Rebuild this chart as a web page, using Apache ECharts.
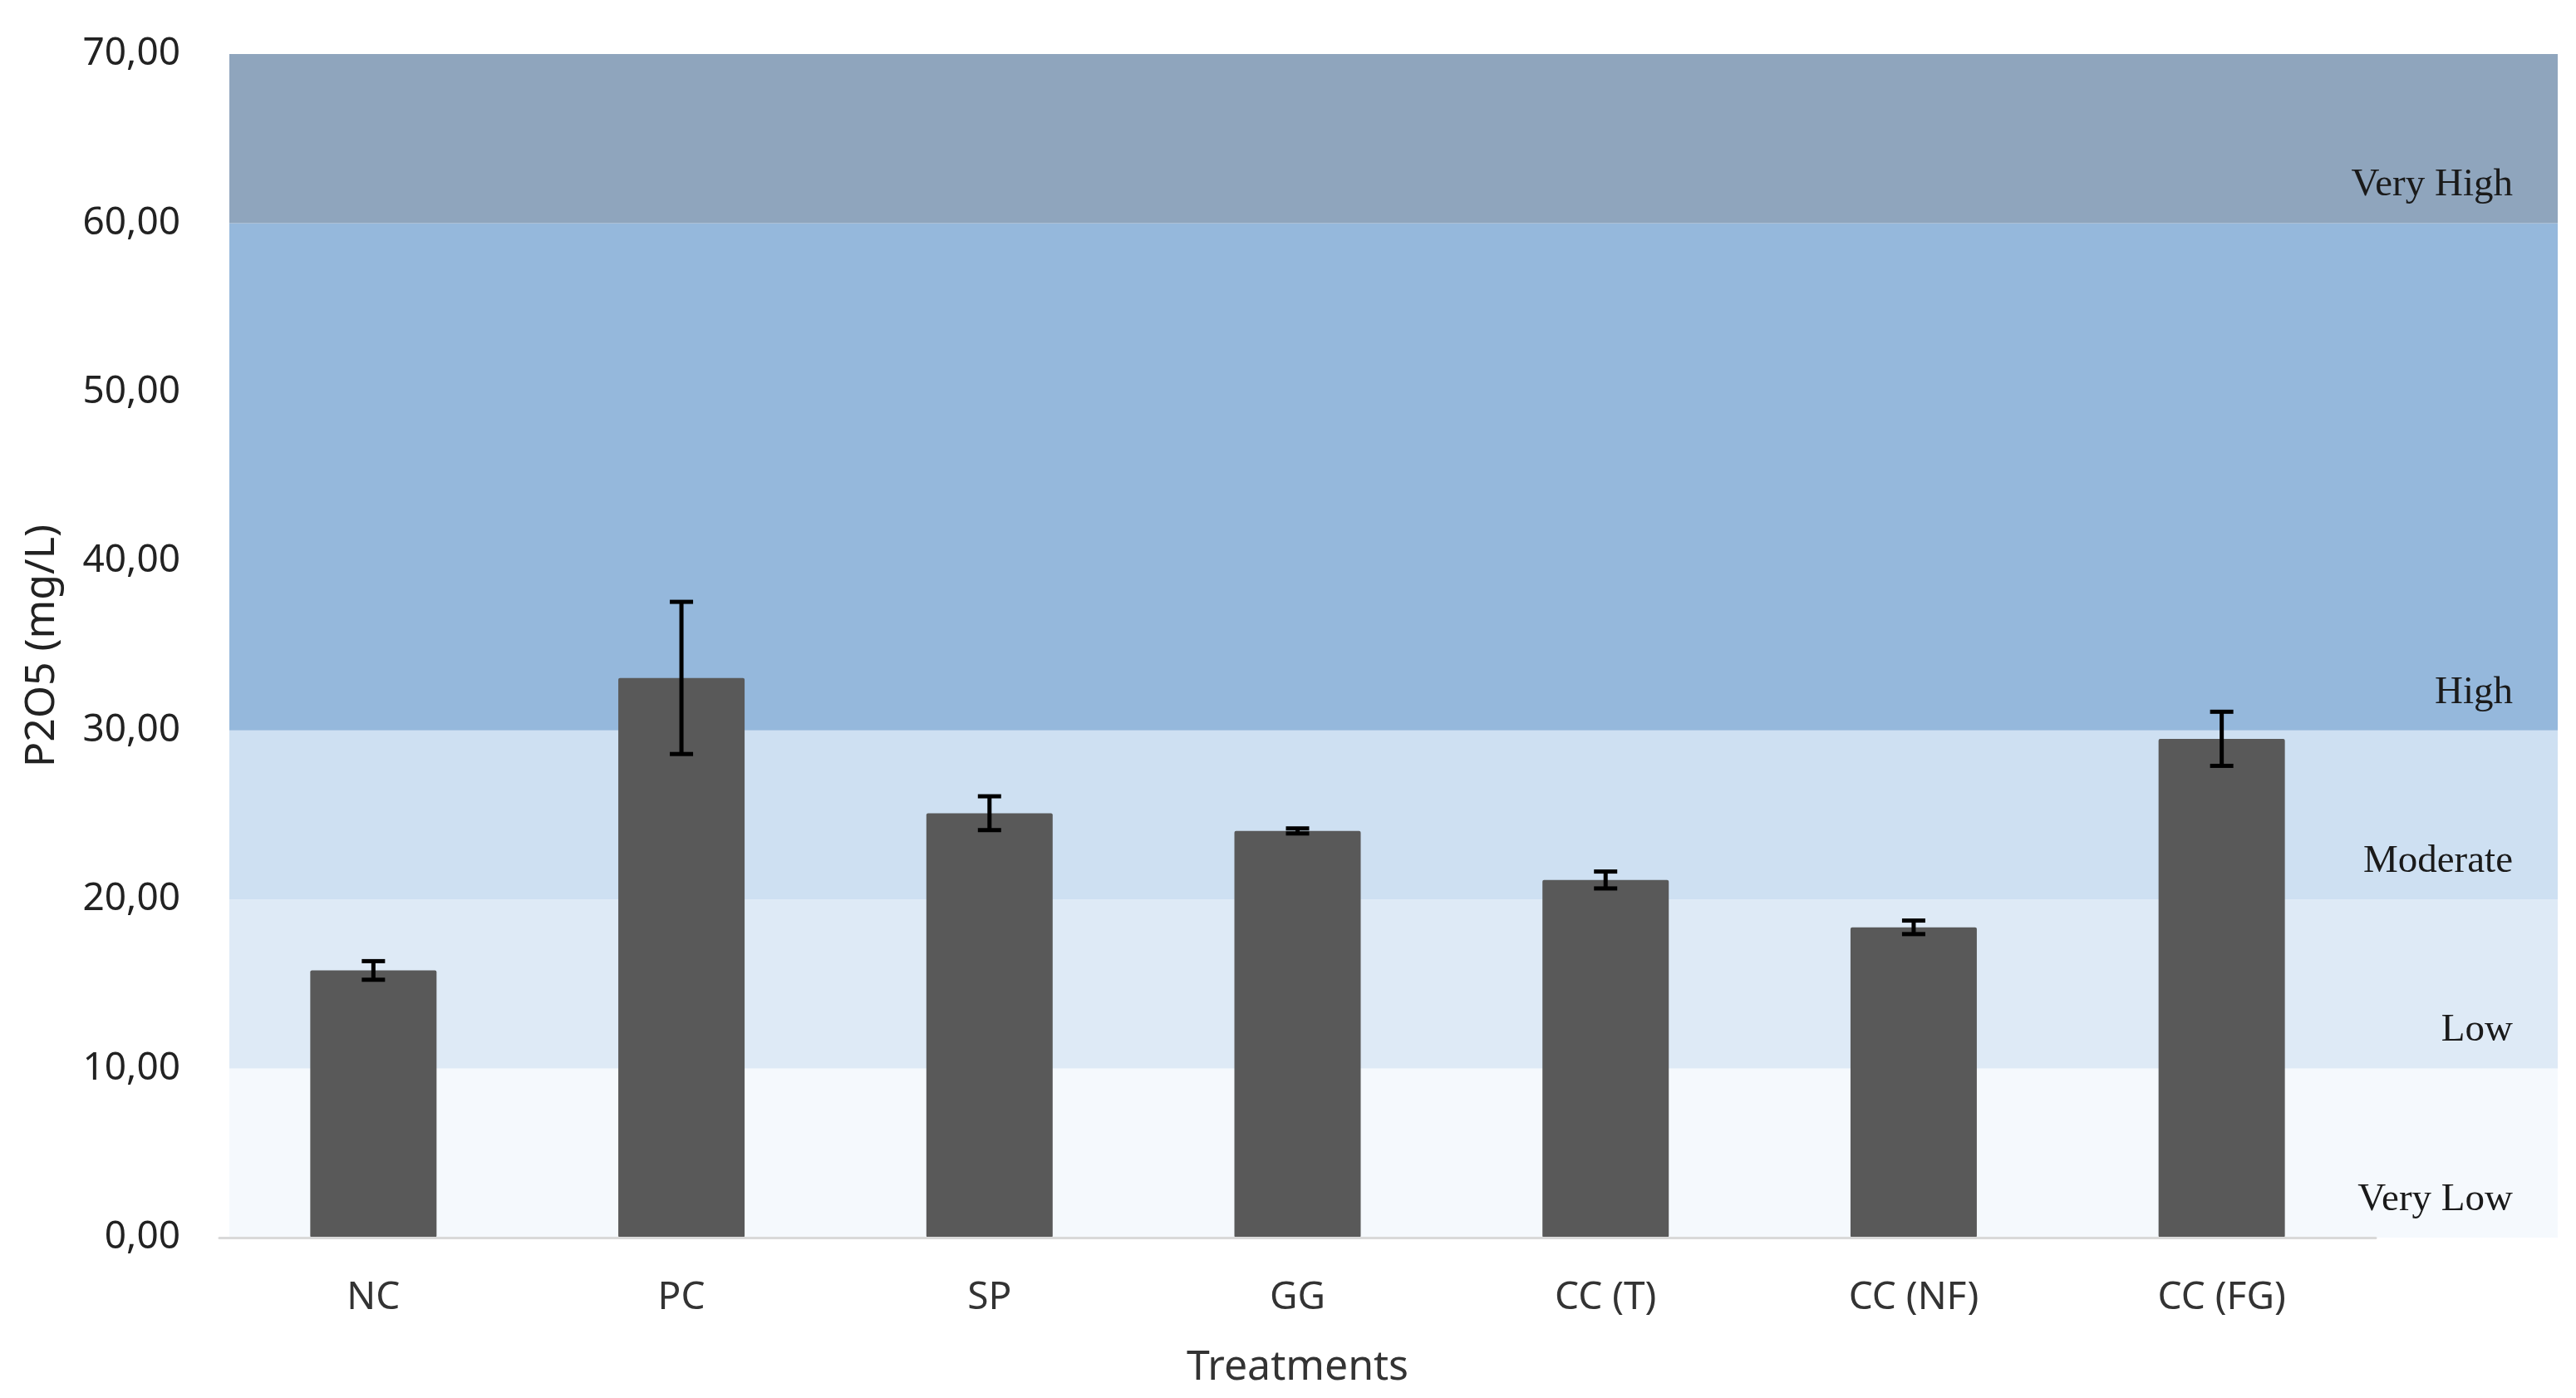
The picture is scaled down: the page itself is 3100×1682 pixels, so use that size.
<!DOCTYPE html>
<html>
<head>
<meta charset="utf-8">
<script src="https://cdn.jsdelivr.net/npm/echarts@6/dist/echarts.min.js"></script>
<style>html,body{margin:0;padding:0;background:#fff}#c{width:3100px;height:1682px}</style>
</head>
<body>
<div id="c"></div>
<script>
// ---- data ----
const categories = ['NC', 'PC', 'SP', 'GG', 'CC (T)', 'CC (NF)', 'CC (FG)'];
const means = [15.8, 33.1, 25.1, 24.05, 21.15, 18.35, 29.5];
const errors = [0.55, 4.5, 1.0, 0.15, 0.5, 0.4, 1.6];
const bandNames = ['Very Low', 'Low', 'Moderate', 'High', 'Very High'];
const bandSizes = [10, 10, 10, 30, 10];
const bandColors = ['#F5F9FD', '#DEEAF6', '#CEE0F2', '#95B8DC', '#8FA5BD'];
const yMin = 0, yMax = 70, yStep = 10;

const chart = echarts.init(document.getElementById('c'), null, {renderer: 'canvas'});

const bandSeries = bandNames.map((n, i) => ({
  name: n,
  type: 'bar',
  xAxisIndex: 1,
  yAxisIndex: 1,
  stack: 'bands',
  barWidth: '100%',
  z: 0,
  silent: true,
  data: [bandSizes[i]],
  itemStyle: {color: bandColors[i]},
  label: {
    show: true,
    position: 'insideBottomRight',
    distance: 20,
    offset: [-34, -2],
    formatter: n,
    fontFamily: '"Liberation Serif", "Times New Roman", serif',
    fontSize: 47,
    color: '#1a1a1a'
  }
}));

const option = {
  animation: false,
  backgroundColor: '#ffffff',
  grid: [
    {left: 264, right: 241, top: 65, bottom: 193},
    {left: 276, right: 22, top: 65, bottom: 193}
  ],
  xAxis: [
    {
      type: 'category', gridIndex: 0, data: categories,
      axisLine: {show: true, lineStyle: {color: '#d9d9d9', width: 3}},
      axisTick: {show: false},
      axisLabel: {fontFamily: '"Noto Sans", sans-serif', fontSize: 46, color: '#333333', margin: 50},
      name: 'Treatments', nameLocation: 'middle', nameGap: 132,
      nameTextStyle: {fontFamily: '"Noto Sans", sans-serif', fontSize: 50, color: '#333333'},
      z: 5
    },
    {type: 'category', gridIndex: 1, data: ['bands'], show: false}
  ],
  yAxis: [
    {
      type: 'value', gridIndex: 0, min: yMin, max: yMax, interval: yStep,
      axisLine: {show: false}, axisTick: {show: false}, splitLine: {show: false},
      axisLabel: {
        fontFamily: '"Noto Sans", sans-serif', fontSize: 46, color: '#222222', margin: 47,
        formatter: v => v.toFixed(2).replace('.', ',')
      },
      name: 'P2O5 (mg/L)', nameLocation: 'middle', nameGap: 188, nameRotate: 90,
      nameTextStyle: {fontFamily: '"Noto Sans", sans-serif', fontSize: 50, color: '#222222'}
    },
    {type: 'value', gridIndex: 1, min: yMin, max: yMax, show: false}
  ],
  series: [
    ...bandSeries,
    {
      name: 'P2O5', type: 'bar', xAxisIndex: 0, yAxisIndex: 0,
      data: means, barCategoryGap: '59%', z: 3,
      itemStyle: {color: '#595959', borderRadius: 2}
    },
    {
      name: 'err', type: 'custom', xAxisIndex: 0, yAxisIndex: 0, z: 4,
      data: means.map((m, i) => [i, m - errors[i], m + errors[i]]),
      renderItem: (params, api) => {
        const lo = api.coord([api.value(0), api.value(1)]);
        const hi = api.coord([api.value(0), api.value(2)]);
        const hw = 14;
        const st = {stroke: '#000', lineWidth: 5, fill: null};
        return {
          type: 'group',
          children: [
            {type: 'line', shape: {x1: lo[0], y1: lo[1], x2: hi[0], y2: hi[1]}, style: st},
            {type: 'line', shape: {x1: lo[0] - hw, y1: lo[1], x2: lo[0] + hw, y2: lo[1]}, style: st},
            {type: 'line', shape: {x1: hi[0] - hw, y1: hi[1], x2: hi[0] + hw, y2: hi[1]}, style: st}
          ]
        };
      }
    }
  ]
};
chart.setOption(option);
</script>
</body>
</html>
